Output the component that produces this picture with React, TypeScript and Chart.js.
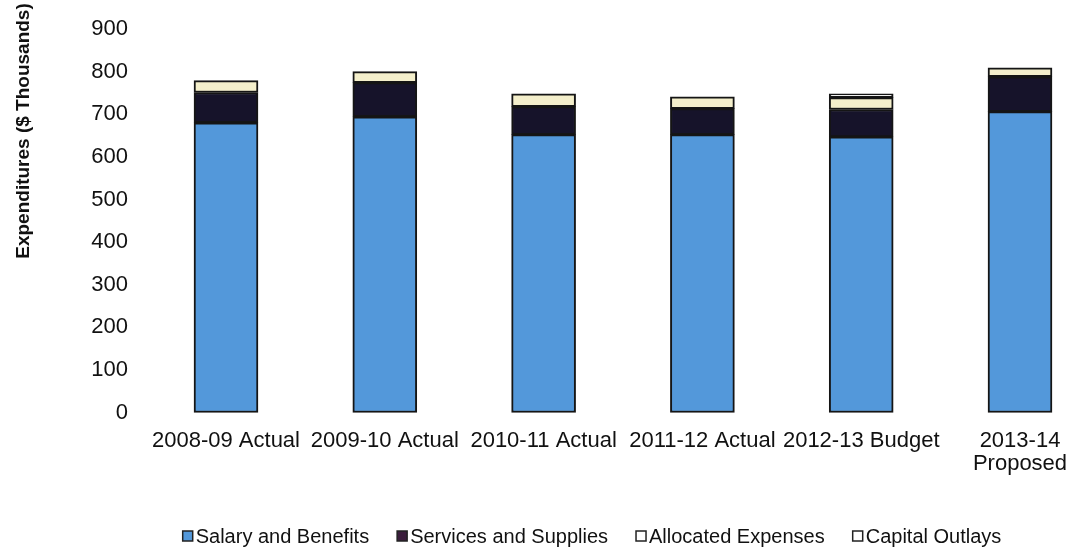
import React, { useEffect, useRef } from "react";
import { Chart, registerables } from "chart.js";

Chart.register(...registerables);

const categories: (string | string[])[] = [
  "2008-09 Actual",
  "2009-10 Actual",
  "2010-11 Actual",
  "2011-12 Actual",
  "2012-13 Budget",
  ["2013-14", "Proposed"],
];

const salaryAndBenefits = [680, 694, 652, 652, 647, 706];
const servicesAndSupplies = [71, 80, 66, 61, 64, 82];
const allocatedExpenses = [28, 26, 30, 28, 28, 21];
const capitalOutlays = [0, 0, 0, 0, 9, 0];

const seriesNames = [
  "Salary and Benefits",
  "Services and Supplies",
  "Allocated Expenses",
  "Capital Outlays",
];

const yAxisTitle = "Expenditures ($ Thousands)";
const yMin = 0;
const yMax = 900;
const yStep = 100;

const FONT = "'Liberation Sans', Arial, Helvetica, sans-serif";

const decorPlugin = {
  id: "decor",
  afterDraw(chart: any) {
    const ctx = chart.ctx as CanvasRenderingContext2D;
    // Y axis title
    ctx.save();
    ctx.translate(24, 131);
    ctx.rotate(-Math.PI / 2);
    ctx.font = `bold 19px ${FONT}`;
    ctx.fillStyle = "#111";
    ctx.textAlign = "center";
    ctx.textBaseline = "middle";
    ctx.fillText(yAxisTitle, 0, 0);
    ctx.restore();

    // Legend
    ctx.save();
    ctx.font = `20px ${FONT}`;
    const items = chart.data.datasets.map((ds: any) => ({
      text: ds.label,
      fill: ds.legendColor || ds.backgroundColor,
    }));
    const box = 10;
    const gapBoxText = 3;
    const gapItem = 28;
    const widths = items.map(
      (it: any) => box + gapBoxText + ctx.measureText(it.text).width
    );
    const total =
      widths.reduce((a: number, b: number) => a + b, 0) +
      gapItem * (items.length - 1);
    let x = 592 - total / 2;
    const y = 536;
    items.forEach((it: any, i: number) => {
      ctx.fillStyle = it.fill;
      ctx.fillRect(x, y - box / 2, box, box);
      ctx.strokeStyle = "#222";
      ctx.lineWidth = 1.5;
      ctx.strokeRect(x, y - box / 2, box, box);
      ctx.fillStyle = "#111";
      ctx.textAlign = "left";
      ctx.textBaseline = "middle";
      ctx.fillText(it.text, x + box + gapBoxText, y + 1);
      x += widths[i] + gapItem;
    });
    ctx.restore();
  },
};

export default function App() {
  const canvasRef = useRef<HTMLCanvasElement | null>(null);

  useEffect(() => {
    if (!canvasRef.current) return;
    Chart.defaults.font.family = FONT;
    const border = "#151515";
    const common = {
      borderColor: border,
      borderWidth: 2,
      borderSkipped: false,
      barThickness: 64,
      clip: false,
    };
    const chart = new Chart(canvasRef.current, {
      type: "bar",
      data: {
        labels: categories,
        datasets: [
          {
            label: seriesNames[0],
            data: salaryAndBenefits,
            backgroundColor: "#5398da",
            ...common,
          },
          {
            label: seriesNames[1],
            data: servicesAndSupplies,
            backgroundColor: "#16132a",
            legendColor: "#3b1d3c",
            ...common,
          },
          {
            label: seriesNames[2],
            data: allocatedExpenses,
            backgroundColor: "#f4efcb",
            legendColor: "#ffffff",
            ...common,
          },
          {
            label: seriesNames[3],
            data: capitalOutlays,
            backgroundColor: "#ffffff",
            ...common,
          },
        ] as any,
      },
      options: {
        animation: false,
        responsive: true,
        maintainAspectRatio: false,
        layout: { padding: { top: 29, right: 52, bottom: 0, left: 0 } },
        plugins: {
          legend: { display: false },
          tooltip: { enabled: false },
          title: { display: false },
        },
        scales: {
          x: {
            stacked: true,
            offset: false,
            grid: { display: false, drawTicks: false },
            border: { display: false },
            ticks: {
              color: "#111",
              font: { size: 22, lineHeight: 1.05 },
              padding: 17,
              maxRotation: 0,
              minRotation: 0,
              autoSkip: false,
            },
            afterFit: (scale: any) => {
              scale.height = 137.5;
              scale.paddingRight = 0;
              scale.paddingLeft = 0;
            },
          },
          y: {
            stacked: true,
            min: yMin,
            max: yMax,
            grid: { display: false, drawTicks: false },
            border: { display: false },
            ticks: {
              stepSize: yStep,
              color: "#111",
              font: { size: 22 },
              padding: 98,
            },
            afterFit: (scale: any) => {
              scale.width = 226;
              scale.paddingTop = 13;
              scale.paddingBottom = 13;
            },
          },
        },
      },
      plugins: [decorPlugin],
    });
    return () => chart.destroy();
  }, []);

  return (
    <div
      style={{
        position: "fixed",
        left: 0,
        top: 0,
        width: 1072,
        height: 550,
        background: "#fff",
      }}
    >
      <canvas ref={canvasRef} />
    </div>
  );
}
